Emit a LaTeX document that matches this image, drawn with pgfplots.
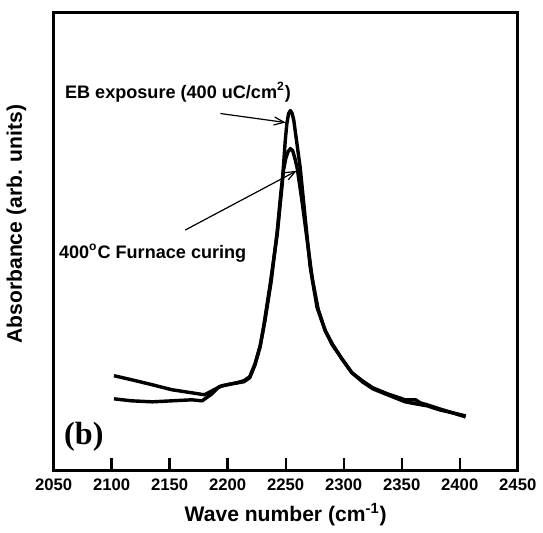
\documentclass[border=0pt]{standalone}
\usepackage{fontspec}
\setmainfont{Liberation Sans}
\newfontfamily\serifbf{Liberation Serif}
\usepackage{pgfplots}
\pgfplotsset{compat=1.18}
\usetikzlibrary{arrows.meta}

% EB exposure (400 uC/cm2)
\pgfplotstableread{
x y
2102 94
2117 90
2135 85
2152 80
2169 77
2180 75
2186.5 79
2195 84
2204 86
2214 88
2219 92
2223.6 105
2228 123
2231 143
2236.6 185
2242.7 235
2247 285
2249.6 328
2251 345
2252.5 355
2254 358
2255.6 355
2257 348
2258.5 335
2260.5 318
2262.5 301
2266.8 251
2271 203
2277 162
2284 139
2290 126
2298.8 110
2307 97
2316 88
2325 81
2337.7 75
2353 68
2362 66
2372 64
2382.6 60
2394 57
2405 53
}\tabEB

% 400 C furnace curing
\pgfplotstableread{
x y
2102 71
2117 69
2135 68
2152 69
2169 70
2178 69
2186.5 76
2192.5 83
2199.5 85
2208 87
2214 89
2219 93
2223.6 106
2228 124
2232 148
2237.5 188
2242.7 238
2246 278
2248 298
2250 310
2252 317
2254 320
2256 318
2258 310
2260 300
2264 268
2268.6 228
2273 190
2278 160
2284 139
2290 125
2299 110
2307 97
2316 89
2325 82
2337.7 76
2353 70
2362 70
2366 67
2372 65
2382.6 61
2394 57
2405 54
}\tabFC

\begin{document}
\begin{tikzpicture}
\begin{axis}[
    scale only axis,
    width=231pt, height=228pt,
    xmin=2050, xmax=2450,
    ymin=0, ymax=456,
    xtick={2050,2100,...,2450},
    xtick align=inside,
    xtick pos=lower,
    major tick length=6pt,
    xtick style={black, line width=1.2pt},
    ytick=\empty,
    axis line style={line width=1.5pt},
    /pgf/number format/assume math mode=true,
    /pgf/number format/set thousands separator={},
    xticklabel style={font=\fontsize{8.3}{10}\selectfont\bfseries, yshift=-1pt},
    xlabel={Wave number (cm\textsuperscript{-1})},
    ylabel={Absorbance (arb. units)},
    xlabel style={font=\fontsize{10.5}{12}\selectfont\bfseries, at={(axis description cs:0.5,-0.0965)}, anchor=center},
    ylabel style={font=\fontsize{10.5}{12}\selectfont\bfseries, at={(axis description cs:-0.08,0.537)}, anchor=center},
    clip=false,
]
\addplot[black, line width=1.7pt, line join=round] table[x=x,y=y] {\tabEB};
\addplot[black, line width=1.7pt, line join=round] table[x=x,y=y] {\tabFC};

\draw[line width=1.5pt] (rel axis cs:0,0) rectangle (rel axis cs:1,1);

\node[anchor=base west, font=\fontsize{9}{11}\selectfont\bfseries, inner sep=0pt]
    at (axis cs:2059.5,370) {EB exposure (400 uC/cm\textsuperscript{2})};
\node[anchor=base west, font=\fontsize{9}{11}\selectfont\bfseries, inner sep=0pt]
    at (axis cs:2054.3,211) {400\textsuperscript{o}C Furnace curing};
\draw[-{Straight Barb[length=5pt,width=4pt]}, line width=0.6pt]
    (axis cs:2193.7,355) -- (axis cs:2250,346);
\draw[-{Straight Barb[length=5pt,width=4pt]}, line width=0.6pt]
    (axis cs:2163.4,239) -- (axis cs:2259.5,298);
\node[font=\fontsize{16}{18}\selectfont\serifbf\bfseries, inner sep=0pt]
    at (axis cs:2076,33) {(b)};
\path ([yshift=6pt]rel axis cs:0,1);
\end{axis}
\end{tikzpicture}
\end{document}
